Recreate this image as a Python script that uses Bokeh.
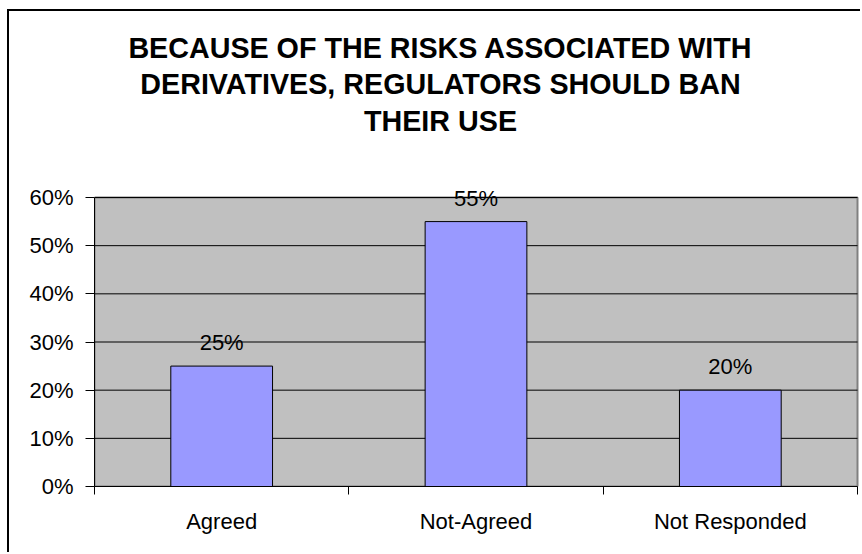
from bokeh.plotting import figure
from bokeh.models import (ColumnDataSource, FixedTicker, NumeralTickFormatter, Range1d,
                          Label, LabelSet)
from bokeh.core.properties import value
from bokeh.embed import file_html
from bokeh.resources import INLINE

categories = ["Agreed", "Not-Agreed", "Not Responded"]
values = [0.25, 0.55, 0.20]
value_labels = ["25%", "55%", "20%"]
title_lines = ["BECAUSE OF THE RISKS ASSOCIATED WITH",
               "DERIVATIVES, REGULATORS SHOULD BAN",
               "THEIR USE"]
y_ticks = [0.0, 0.1, 0.2, 0.3, 0.4, 0.5, 0.6]
y_max = 0.6

n = len(categories)
xs = [i + 0.5 for i in range(n)]
src = ColumnDataSource(dict(x=xs, top=values, lab=value_labels, cat=categories))

FONT = "Liberation Sans"

# layout (pixels)
W, H = 853, 543
left, top_b, bottom_b = 85, 5, 68
area_w, area_h = 763, 289          # size of the grey plot area
frame_w = W - left
frame_h = H - top_b - bottom_b
x_end = n * frame_w / area_w
y_end = y_max * frame_h / area_h

p = figure(width=W, height=H, output_backend="svg", toolbar_location=None,
           x_range=Range1d(0, x_end), y_range=Range1d(0, y_end),
           min_border_left=left, min_border_right=0, min_border_top=top_b,
           min_border_bottom=bottom_b)
p.styles = {"margin-left": "7px", "margin-top": "9px",
            "border-left": "2px solid black", "border-top": "2px solid black"}

p.background_fill_color = "white"
p.border_fill_color = "white"
p.outline_line_color = None
p.xgrid.grid_line_color = None
p.ygrid.grid_line_color = None

# grey plot area
p.quad(left=[0], right=[n], bottom=[0], top=[y_max],
       fill_color="#C0C0C0", line_color="#808080", line_width=2)
# horizontal gridlines
p.segment(x0=[0] * len(y_ticks), x1=[n] * len(y_ticks), y0=y_ticks, y1=y_ticks,
          line_color="black", line_width=1)

p.vbar(x="x", top="top", bottom=0, width=0.4, source=src,
       fill_color="#9999FF", line_color="black", line_width=1)

# y axis
ya = p.yaxis[0]
ya.bounds = (0, y_max)
ya.ticker = FixedTicker(ticks=y_ticks)
ya.formatter = NumeralTickFormatter(format="0%")
ya.major_label_text_font = FONT
ya.major_label_text_font_size = "22px"
ya.major_label_text_color = "black"
ya.major_tick_out = 9
ya.major_tick_in = 0
ya.minor_tick_line_color = None
ya.axis_line_color = "black"
ya.major_tick_line_color = "black"
ya.major_label_standoff = 12

# x axis: labels at centres, ticks at boundaries
xa = p.xaxis[0]
xa.bounds = (0, n)
xa.ticker = FixedTicker(ticks=xs, minor_ticks=list(range(n + 1)))
xa.major_label_overrides = {x: c for x, c in zip(xs, categories)}
xa.major_tick_line_color = None
xa.major_tick_out = 0
xa.major_tick_in = 0
xa.minor_tick_line_color = "black"
xa.minor_tick_out = 8
xa.minor_tick_in = 0
xa.axis_line_color = "black"
xa.major_label_text_font = FONT
xa.major_label_text_font_size = "22px"
xa.major_label_text_color = "black"
xa.major_label_standoff = 14

labels = LabelSet(x="x", y="top", text="lab", source=src, y_offset=16,
                  text_align="center", text_baseline="alphabetic",
                  text_font=value(FONT), text_font_size=value("22px"),
                  text_color="black")
p.add_layout(labels)

for i, line in enumerate(title_lines):
    p.add_layout(Label(x=346, y=439 - 36.6 * i, x_units="screen", y_units="screen",
                       text=line, text_align="center", text_baseline="alphabetic",
                       text_font=FONT, text_font_size="28.7px", text_font_style="bold",
                       text_color="black"))

open("out.html", "w").write(file_html(p, INLINE))
